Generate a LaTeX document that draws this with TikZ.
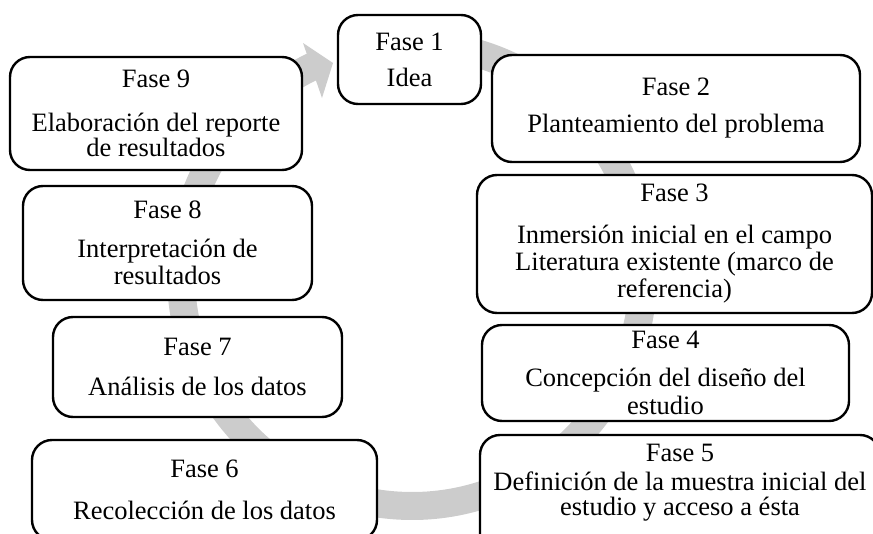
\documentclass[tikz,border=0pt]{standalone}
\usepackage{fontspec}
\setmainfont{Liberation Serif}
\usetikzlibrary{calc}
\definecolor{arcgray}{RGB}{204,204,204}
\begin{document}
\begin{tikzpicture}[x=1pt,y=-1pt,
  box/.style={draw=black, line width=2.4pt, rounded corners=20pt, fill=white,
    align=center, inner sep=0pt, font=\fontsize{26.5}{27}\selectfont},
  txt/.style={align=center, inner sep=0pt},
  cyc/.style={draw=arcgray, line width=28pt}]
\useasboundingbox (0,0) rectangle (873,533);
\clip (0,0) rectangle (873,533);
\coordinate (c) at (412,275);
% cycle arrow
\draw[cyc] ($(c)+(-88:231)$) arc[start angle=-88, end angle=245, radius=231];
\coordinate (ha) at (303,43);
\coordinate (ht) at (333,63);
\coordinate (hb) at (322,98);
\fill[arcgray] (ha) -- (ht) -- (hb) -- cycle;
% boxes
\node[box, minimum width=143pt, minimum height=89pt] (f1) at (409.5,59.5)
  {Fase 1\\[9pt]Idea};
\node[box, minimum width=368pt, minimum height=107pt] (f2) at (676,108.5)
  {Fase 2\\[10pt]Planteamiento del problema};
\node[box, minimum width=395pt, minimum height=138pt] (f3) at (674.5,244)
  {Fase 3\\[15pt]Inmersión inicial en el campo\\Literatura existente (marco de\\referencia)};
\node[box, minimum width=367pt, minimum height=96pt] (f4) at (665.5,373)
  {Fase 4\\[11pt]Concepción del diseño del\\[1pt]estudio};
\node[box, minimum width=400pt, minimum height=125pt] (f5) at (680,497.5) {};
\node[txt, font=\fontsize{26.5}{25}\selectfont] (f5t) at (680,483)
  {Fase 5\\[4pt]Definición de la muestra inicial del\\estudio y acceso a ésta};
\node[box, minimum width=345pt, minimum height=100pt] (f6) at (204.5,490)
  {Fase 6\\[15pt]Recolección de los datos};
\node[box, minimum width=289pt, minimum height=100pt] (f7) at (197.5,367)
  {Fase 7\\[13pt]Análisis de los datos};
\node[box, minimum width=289pt, minimum height=114pt] (f8) at (167.5,243)
  {Fase 8\\[12pt]Interpretación de\\resultados};
\node[box, minimum width=292pt, minimum height=113pt] (f9) at (156,113.5)
  {Fase 9\\[17pt]Elaboración del reporte\\[-2pt]de resultados};
\end{tikzpicture}
\end{document}
